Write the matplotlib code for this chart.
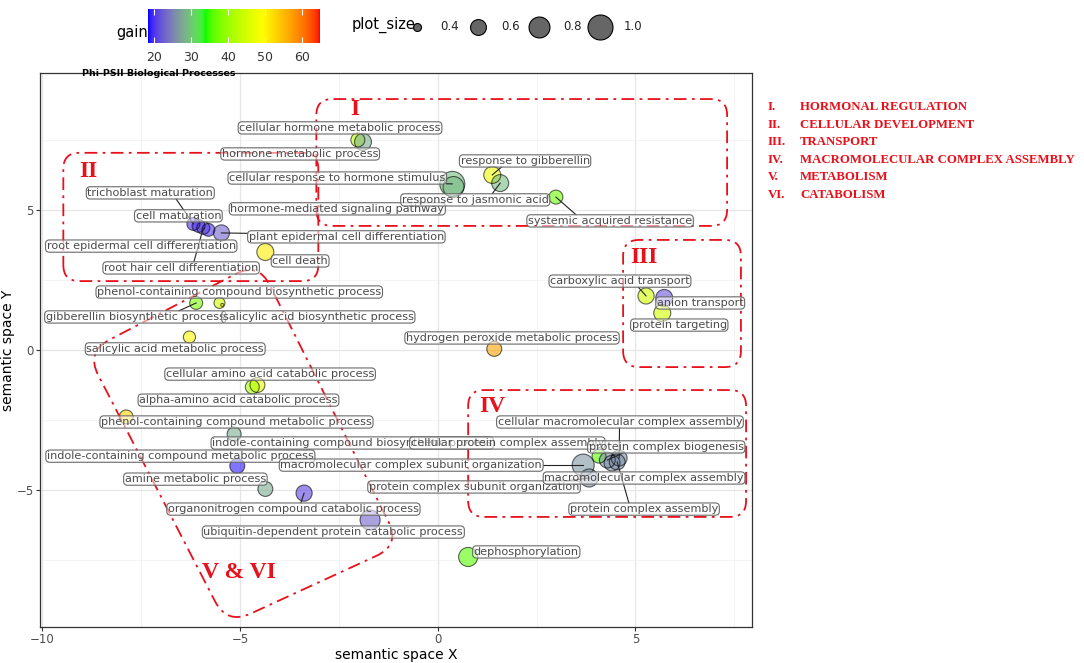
import numpy as np
import matplotlib
matplotlib.use("Agg")
import matplotlib.pyplot as plt
from matplotlib.colors import ListedColormap, Normalize
from matplotlib.path import Path
from matplotlib.patches import PathPatch

# REVIGO terms, semantic space coordinates, gain and plot_size
terms = [
    "cellular hormone metabolic process", "hormone metabolic process",
    "cellular response to hormone stimulus", "hormone-mediated signaling pathway",
    "response to gibberellin", "response to jasmonic acid", "systemic acquired resistance",
    "trichoblast maturation", "cell maturation", "root epidermal cell differentiation",
    "root hair cell differentiation", "plant epidermal cell differentiation", "cell death",
    "gibberellin biosynthetic process", "phenol-containing compound biosynthetic process",
    "salicylic acid biosynthetic process", "salicylic acid metabolic process",
    "hydrogen peroxide metabolic process", "carboxylic acid transport", "anion transport",
    "protein targeting", "cellular amino acid catabolic process",
    "alpha-amino acid catabolic process", "phenol-containing compound metabolic process",
    "indole-containing compound biosynthetic process",
    "indole-containing compound metabolic process", "amine metabolic process",
    "organonitrogen compound catabolic process",
    "ubiquitin-dependent protein catabolic process", "dephosphorylation",
    "macromolecular complex subunit organization", "protein complex subunit organization",
    "cellular protein complex assembly", "protein complex biogenesis",
    "macromolecular complex assembly", "protein complex assembly",
    "cellular macromolecular complex assembly",
]
sem_x = [-2.02, -1.89, 0.37, 0.40, 1.38, 1.58, 2.99,
         -6.18, -6.05, -5.80, -5.93, -5.47, -4.36,
         -6.11, -5.52, -5.45, -6.28, 1.43, 5.27, 5.73, 5.68,
         -4.56, -4.69, -7.88, -5.15, -5.07, -4.36, -3.38, -1.71, 0.77,
         3.68, 3.83, 4.08, 4.29, 4.41, 4.54, 4.59]
sem_y = [7.50, 7.43, 5.93, 5.82, 6.25, 5.96, 5.46,
         4.50, 4.43, 4.29, 4.36, 4.18, 3.50,
         1.68, 1.68, 1.61, 0.46, 0.04, 1.93, 1.86, 1.32,
         -1.25, -1.32, -2.39, -3.00, -4.14, -4.96, -5.11, -6.07, -7.39,
         -4.11, -4.57, -3.79, -3.93, -4.04, -4.00, -3.86]
gain = [43, 28, 29, 29, 48, 29, 37,
        20, 20, 20, 21, 23, 51,
        38, 45, 50, 50, 57, 45, 22, 45,
        47, 41, 53, 28, 19, 28, 21, 23, 36,
        26.5, 26, 36, 26, 26, 26, 26]
plot_size = [0.54, 0.64, 1.00, 0.80, 0.64, 0.64, 0.54,
             0.51, 0.51, 0.51, 0.51, 0.61, 0.64,
             0.51, 0.46, 0.34, 0.49, 0.57, 0.61, 0.64, 0.64,
             0.57, 0.54, 0.54, 0.54, 0.57, 0.57, 0.61, 0.76, 0.72,
             0.85, 0.68, 0.54, 0.60, 0.60, 0.60, 0.60]

# label positions (where ggrepel placed them)
label_x = [-2.47, -3.48, -2.54, -2.54, 2.21, 0.95, 4.36,
           -7.27, -6.56, -7.50, -6.49, -2.31, -3.48,
           -7.65, -5.02, -3.02, -6.64, 1.88, 4.61, 6.64, 6.11,
           -4.24, -5.04, -5.09, -2.16, -6.51, -6.13, -3.65, -2.64, 2.24,
           -0.67, 0.92, 1.76, 5.78, 5.22, 5.22, 4.61]
label_y = [7.93, 7.00, 6.14, 5.04, 6.75, 5.36, 4.61,
           5.61, 4.79, 3.71, 2.93, 4.04, 3.18,
           1.18, 2.07, 1.18, 0.04, 0.43, 2.46, 1.68, 0.89,
           -0.86, -1.79, -2.57, -3.32, -3.79, -4.61, -5.68, -6.50, -7.21,
           -4.11, -4.89, -3.32, -3.46, -4.57, -5.68, -2.57]

# labels that got a connector segment
with_segment = {
    "cellular response to hormone stimulus", "response to gibberellin",
    "response to jasmonic acid", "systemic acquired resistance",
    "trichoblast maturation", "root hair cell differentiation",
    "plant epidermal cell differentiation", "gibberellin biosynthetic process",
    "carboxylic acid transport",
    "cellular macromolecular complex assembly", "protein complex biogenesis",
    "macromolecular complex subunit organization", "protein complex subunit organization",
    "protein complex assembly", "organonitrogen compound catabolic process",
}

size_breaks = [0.4, 0.6, 0.8, 1.0]
gain_ticks = [20, 30, 40, 50, 60]
group_nums = ["I.", "II.", "III.", "IV.", "V.", "VI."]
group_names = ["Hormonal Regulation", "Cellular Development", "Transport",
               "Macromolecular Complex Assembly", "Metabolism", "Catabolism"]

RED = "#e8101a"

# ggplot style gradient (interpolated in Lab)
M = np.array([[0.4124, 0.3576, 0.1805], [0.2126, 0.7152, 0.0722], [0.0193, 0.1192, 0.9505]])
WHITE = np.array([0.95047, 1.0, 1.08883])


def to_lab(rgb):
    rgb = np.asarray(rgb, float)
    lin = np.where(rgb <= 0.04045, rgb / 12.92, ((rgb + 0.055) / 1.055) ** 2.4)
    xyz = lin @ M.T / WHITE
    f = np.where(xyz > 0.008856, np.cbrt(xyz), 7.787 * xyz + 16 / 116)
    return np.stack([116 * f[..., 1] - 16, 500 * (f[..., 0] - f[..., 1]),
                     200 * (f[..., 1] - f[..., 2])], -1)


def from_lab(lab):
    fy = (lab[..., 0] + 16) / 116
    f = np.stack([fy + lab[..., 1] / 500, fy, fy - lab[..., 2] / 200], -1)
    xyz = np.where(f ** 3 > 0.008856, f ** 3, (f - 16 / 116) / 7.787) * WHITE
    lin = np.clip(xyz @ np.linalg.inv(M).T, 0, 1)
    rgb = np.where(lin <= 0.0031308, 12.92 * lin, 1.055 * lin ** (1 / 2.4) - 0.055)
    return np.clip(rgb, 0, 1)


anchors = to_lab([[0, 0, 1], [0, 1, 0], [1, 1, 0], [1, 0, 0]])
pos = np.linspace(0, 1, 256) * 3
idx = np.minimum(pos.astype(int), 2)
frac = (pos - idx)[:, None]
cmap = ListedColormap(from_lab(anchors[idx] * (1 - frac) + anchors[idx + 1] * frac))
norm = Normalize(18.4, 64.9)


def marker_area(v):
    d = np.sqrt(np.clip(64 + 935 * (np.asarray(v) - 0.4), 9, None))  # px
    return (d * 0.72) ** 2


W, H = 1084, 663
fig = plt.figure(figsize=(W / 100, H / 100), dpi=100)
ax = fig.add_axes([40 / W, 1 - 627 / H, 712 / W, 554 / H])
ax.set_xlim(-10.06, 7.95)
ax.set_ylim(-9.89, 9.89)
ax.set_xticks([-10, -5, 0, 5])
ax.set_yticks([-5, 0, 5])
ax.set_xticks([-7.5, -2.5, 2.5, 7.5], minor=True)
ax.set_yticks([-7.5, -2.5, 2.5, 7.5], minor=True)
ax.grid(which="major", color="#e6e6e6", lw=0.9)
ax.grid(which="minor", color="#f0f0f0", lw=0.5)
ax.set_axisbelow(True)
ax.tick_params(which="major", length=3, color="#333333", labelsize=8.5,
               labelcolor="#4d4d4d", pad=1.5)
ax.tick_params(which="minor", length=0)
for sp in ax.spines.values():
    sp.set_color("#333333")
    sp.set_linewidth(0.9)
ax.set_xlabel("semantic space X", fontsize=10, labelpad=1)
ax.set_ylabel("semantic space Y", fontsize=10, labelpad=1)

cols = cmap(norm(np.array(gain)))
ax.scatter(sem_x, sem_y, s=marker_area(plot_size), c=cols, alpha=0.6,
           edgecolors="none", zorder=3)
ax.scatter(sem_x, sem_y, s=marker_area(plot_size), facecolors="none",
           edgecolors=(0, 0, 0, 0.6), linewidths=0.8, zorder=3)

texts = []
for i, t in enumerate(terms):
    texts.append(ax.text(label_x[i], label_y[i], t, ha="center", va="center",
                         fontsize=8.1, color="#4a4a4a", zorder=6,
                         bbox=dict(boxstyle="round,pad=0.1,rounding_size=0.35",
                                   fc=(1, 1, 1, 0.55), ec="#6a6a6a", lw=0.8)))

# segments from label box to point
fig.canvas.draw()
rend = fig.canvas.get_renderer()
inv = ax.transData.inverted()
for i, t in enumerate(texts):
    if terms[i] not in with_segment:
        continue
    bb = t.get_bbox_patch().get_window_extent(rend)
    p = ax.transData.transform((sem_x[i], sem_y[i]))
    c = np.array([(bb.x0 + bb.x1) / 2, (bb.y0 + bb.y1) / 2])
    d = p - c
    hw, hh = bb.width / 2, bb.height / 2
    tx = hw / abs(d[0]) if d[0] != 0 else np.inf
    ty = hh / abs(d[1]) if d[1] != 0 else np.inf
    q_dir = c + d * min(min(tx, ty), 1)
    q_near = np.array([np.clip(p[0], bb.x0, bb.x1), np.clip(p[1], bb.y0, bb.y1)])
    qd = inv.transform((q_dir + q_near) / 2)
    ax.plot([qd[0], sem_x[i]], [qd[1], sem_y[i]], color="#222222", lw=0.8, zorder=5)


def rounded_outline(corners, rad):
    pts = ax.transData.transform(np.array(corners))
    verts, codes = [], []
    n = len(pts)
    for k in range(n):
        p0, p1, p2 = pts[k - 1], pts[k], pts[(k + 1) % n]
        d1 = (p0 - p1) / np.linalg.norm(p0 - p1)
        d2 = (p2 - p1) / np.linalg.norm(p2 - p1)
        verts += [p1 + d1 * rad, p1, p1 + d2 * rad]
        codes += [Path.MOVETO if k == 0 else Path.LINETO, Path.CURVE3, Path.CURVE3]
    verts.append(verts[0])
    codes.append(Path.LINETO)
    path = Path(inv.transform(np.array(verts)), codes)
    ax.add_patch(PathPatch(path, fill=False, ec=RED, lw=1.3,
                           ls=(0, (7, 3, 1.5, 3)), zorder=4, clip_on=False))


def box(x0, x1, y0, y1):
    return [(x0, y0), (x1, y0), (x1, y1), (x0, y1)]


rounded_outline(box(-3.07, 7.32, 4.43, 8.96), 16)
rounded_outline(box(-9.47, -3.02, 2.46, 7.04), 16)
rounded_outline(box(4.69, 7.67, -0.61, 3.93), 16)
rounded_outline(box(0.77, 7.80, -5.96, -1.43), 16)
rounded_outline([(-4.54, 3.14), (-0.95, -6.96), (-5.33, -9.80), (-8.89, -0.07)], 26)

roman = dict(color=RED, fontsize=17, fontweight="bold", family="Liberation Serif",
             ha="center", va="center", zorder=7)
ax.text(-2.09, 8.57, "I", **roman)
ax.text(-8.84, 6.36, "II", **roman)
ax.text(5.22, 3.29, "III", **roman)
ax.text(1.38, -2.0, "IV", **roman)
ax.text(-5.02, -7.96, "V & VI", **roman)

fig.text(82 / W, 1 - 73 / H, "Phi-PSII Biological Processes", fontsize=6.8,
         fontweight="bold", va="center", ha="left")

# colour legend
cax = fig.add_axes([148 / W, 1 - 43 / H, 172 / W, 34 / H])
cax.imshow(np.linspace(0, 1, 256)[None, :], cmap=cmap, aspect="auto",
           extent=[norm.vmin, norm.vmax, 0, 1])
cax.set_yticks([])
cax.set_xticks(gain_ticks)
cax.tick_params(axis="x", direction="in", length=4, color="white", width=0.8,
                top=True, labelsize=9, labelcolor="#333333", pad=6)
for sp in cax.spines.values():
    sp.set_visible(False)
fig.text(148 / W, 1 - 33 / H, "gain", fontsize=10.5, ha="right", va="center")

# size legend
lax = fig.add_axes([0, 0, 1, 1], zorder=-1)
lax.set_xlim(0, W)
lax.set_ylim(H, 0)
lax.axis("off")
fig.text(352 / W, 1 - 25 / H, "plot_size", fontsize=10.5, ha="left", va="center")
for k, v in enumerate(size_breaks):
    lax.scatter([417 + 61 * k], [27], s=marker_area(v), fc="#666666", ec="black", lw=0.8)
    lax.text(450 + 61 * k, 27, f"{v:.1f}", fontsize=8.5, ha="center", va="center", color="#222222")

# group list on the right
for k, (num, name) in enumerate(zip(group_nums, group_names)):
    y = 1 - (107 + 17.6 * k) / H
    fig.text(768 / W, y, num, color=RED, fontsize=9.2, fontweight="bold",
             family="Liberation Serif", va="center")
    fig.text(800 / W, y, name.upper(), color=RED, fontsize=9.2, fontweight="bold",
             family="Liberation Serif", va="center")

fig.savefig("out.png", dpi=100)
